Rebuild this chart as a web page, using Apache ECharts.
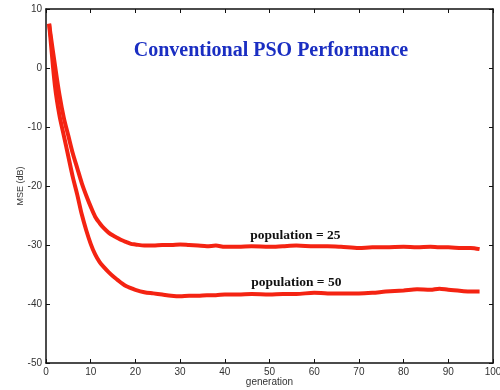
<!doctype html>
<html>
<head>
<meta charset="utf-8">
<title>Conventional PSO Performance</title>
<style>
    html, body { margin: 0; padding: 0; background: #fff; }
    #chart { width: 500px; height: 390px; }
</style>
</head>
<body>
<div id="chart"></div>
<script src="https://cdn.jsdelivr.net/npm/echarts@6/dist/echarts.min.js"></script>
<script>
// generation numbers where the curves were read
var gen = [0.7, 1, 2, 3, 4, 5, 6, 7, 8, 9, 10, 11, 12, 13, 14, 15, 16, 17, 18, 19, 20,
    22, 24, 26, 28, 30, 32, 34, 36, 38, 40, 43, 46, 50, 53, 56, 60, 63, 66, 70,
    73, 76, 80, 83, 86, 88, 90, 93, 95, 97];
// MSE (dB), population = 25
var pop25 = [7.5, 5.8, 0.5, -4.5, -8.5, -11.5, -14.5, -17, -19.5, -21.6, -23.5, -25.2, -26.3, -27.2, -27.9, -28.4, -28.8, -29.2, -29.5, -29.8, -29.9,
    -30.1, -30.1, -30.0, -30.0, -29.9, -30.0, -30.1, -30.2, -30.1, -30.3, -30.3, -30.2, -30.3, -30.2, -30.1, -30.2, -30.2, -30.3, -30.5,
    -30.4, -30.4, -30.3, -30.4, -30.3, -30.4, -30.4, -30.5, -30.5, -30.7];
// MSE (dB), population = 50
var pop50 = [7.5, 5, -3, -8, -11.5, -15, -18.5, -21.5, -24.8, -27.5, -29.8, -31.6, -32.9, -33.8, -34.6, -35.3, -35.9, -36.5, -37, -37.3, -37.6,
    -38, -38.2, -38.4, -38.6, -38.7, -38.6, -38.6, -38.5, -38.5, -38.4, -38.4, -38.3, -38.4, -38.3, -38.3, -38.1, -38.2, -38.2, -38.2,
    -38.1, -37.9, -37.7, -37.5, -37.6, -37.4, -37.6, -37.8, -37.9, -37.9];
var xTicks = [0, 10, 20, 30, 40, 50, 60, 70, 80, 90, 100];
var yTicks = [-50, -40, -30, -20, -10, 0, 10];

var lineRed = '#f42312';
var axisColor = '#111';

function pairs(xs, ys) {
    var out = [];
    for (var i = 0; i < xs.length; i++) out.push([xs[i], ys[i]]);
    return out;
}

var chart = echarts.init(document.getElementById('chart'));

// shared look for the four sides of the box
function frameAxis(extra) {
    var base = {
        axisLine: { show: true, onZero: false, lineStyle: { color: axisColor, width: 1.5 } },
        axisTick: { show: true, inside: true, length: 4, lineStyle: { color: axisColor } },
        splitLine: { show: false }
    };
    for (var k in extra) base[k] = extra[k];
    return base;
}

var option = {
    animation: false,
    backgroundColor: '#fff',
    title: {
        text: 'Conventional PSO Performance',
        left: 266,
        top: 36,
        textAlign: 'center',
        textStyle: {
            fontFamily: 'Liberation Serif',
            fontWeight: 'bold',
            fontSize: 20,
            color: '#1a2ec2'
        }
    },
    grid: { left: 46, right: 7, top: 9, bottom: 27, outerBoundsMode: 'none' },
    xAxis: [
        frameAxis({
            type: 'value', min: xTicks[0], max: xTicks[xTicks.length - 1], interval: 10,
            name: 'generation', nameLocation: 'middle', nameGap: 14, nameMoveOverlap: false,
            nameTextStyle: { fontFamily: 'Liberation Sans', fontSize: 10, color: '#333' },
            axisLabel: { fontFamily: 'Liberation Sans', fontSize: 10, color: '#333', margin: 4 }
        }),
        frameAxis({
            type: 'value', position: 'top', min: 0, max: 100, interval: 10,
            axisLabel: { show: false }
        })
    ],
    yAxis: [
        frameAxis({
            type: 'value', min: yTicks[0], max: yTicks[yTicks.length - 1], interval: 10,
            name: 'MSE (dB)', nameLocation: 'middle', nameGap: 21, nameRotate: 90, nameMoveOverlap: false,
            nameTextStyle: { fontFamily: 'Liberation Sans', fontSize: 9, color: '#333' },
            axisLabel: { fontFamily: 'Liberation Sans', fontSize: 10, color: '#333', margin: 4 }
        }),
        frameAxis({
            type: 'value', position: 'right', min: -50, max: 10, interval: 10,
            axisLabel: { show: false }
        })
    ],
    series: [
        {
            name: 'population = 25',
            type: 'line',
            data: pairs(gen, pop25),
            showSymbol: false,
            smooth: 0.3,
            lineStyle: { color: lineRed, width: 4 },
            markPoint: {
                symbol: 'circle', symbolSize: 0,
                label: {
                    show: true, formatter: 'population = 25', position: 'inside',
                    fontFamily: 'Liberation Serif', fontWeight: 'bold', fontSize: 13.5, color: '#111'
                },
                data: [{ coord: [55.8, -28.4] }]
            }
        },
        {
            name: 'population = 50',
            type: 'line',
            data: pairs(gen, pop50),
            showSymbol: false,
            smooth: 0.3,
            lineStyle: { color: lineRed, width: 4 },
            markPoint: {
                symbol: 'circle', symbolSize: 0,
                label: {
                    show: true, formatter: 'population = 50', position: 'inside',
                    fontFamily: 'Liberation Serif', fontWeight: 'bold', fontSize: 13.5, color: '#111'
                },
                data: [{ coord: [56, -36.4] }]
            }
        }
    ]
};
chart.setOption(option);
</script>
</body>
</html>
